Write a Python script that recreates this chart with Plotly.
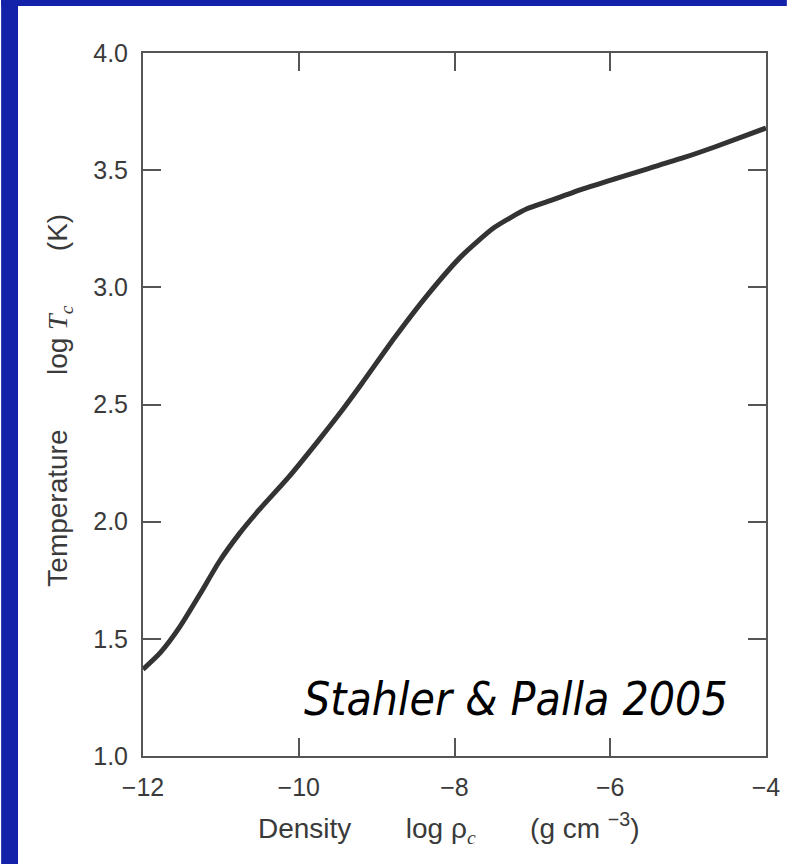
import plotly.graph_objects as go

# Central density (log g cm^-3) and central temperature (log K) of a collapsing core
log_rho_c = [-12.0, -11.78, -11.53, -11.27, -11.02, -10.76, -10.51, -10.13, -9.75,
             -9.49, -9.19, -8.77, -8.34, -7.92, -7.49, -7.07, -6.77, -6.35, -5.92,
             -5.50, -5.07, -4.65, -4.0]
log_T_c = [1.37, 1.44, 1.55, 1.69, 1.83, 1.95, 2.05, 2.19, 2.345,
           2.455, 2.59, 2.785, 2.97, 3.13, 3.255, 3.335, 3.37, 3.42, 3.465,
           3.508, 3.552, 3.60, 3.68]

x_ticks = [-12, -10, -8, -6, -4]
y_ticks = [1.0, 1.5, 2.0, 2.5, 3.0, 3.5, 4.0]

W, H = 792, 864
L, R, T, B = 143, 21, 53, 108
pw, ph = W - L - R, H - T - B

def px_to_paper_x(p):
    return (p - L) / pw

def px_to_paper_y(p):
    return (H - B - p) / ph

AXIS = "#555555"
TEXT = "#3a3a3a"
BLUE = "#1322a8"
SANS = "Liberation Sans, Arial, sans-serif"

fig = go.Figure()
fig.add_trace(go.Scatter(
    x=log_rho_c, y=log_T_c, mode="lines",
    line=dict(color="#333333", width=5, shape="spline", smoothing=0.6),
    hoverinfo="skip", showlegend=False,
))

axis_common = dict(
    showgrid=False, zeroline=False, showline=True, linecolor=AXIS, linewidth=2,
    mirror="ticks", ticks="inside", ticklen=18, tickwidth=2, tickcolor=AXIS,
    tickfont=dict(family=SANS, size=25, color=TEXT),
)

fig.update_xaxes(range=[-12, -4], tickvals=x_ticks,
                 ticktext=[f"\u2212{abs(v)}" for v in x_ticks],
                 ticklabelstandoff=8, **axis_common)
fig.update_yaxes(range=[1.0, 4.0], tickvals=y_ticks,
                 ticktext=[f"{v:.1f}" for v in y_ticks],
                 ticklabelstandoff=8, **axis_common)

serif = "font-family:'Liberation Serif','DejaVu Serif',serif;font-style:italic"
gap = "&nbsp;" * 7
annots = [
    dict(text="Density" + gap + "log \u03c1<sub><span style=\"" + serif + "\">c</span></sub>"
              + gap + "(g cm <sup>\u22123</sup>)",
         x=px_to_paper_x(451), y=px_to_paper_y(828), xanchor="center", yanchor="middle",
         font=dict(family=SANS, size=28, color=TEXT)),
    dict(text="Temperature" + gap + "log <span style=\"" + serif + "\">T</span>"
              "<sub><span style=\"" + serif + "\">c</span></sub>" + gap + "(K)",
         x=px_to_paper_x(58), y=px_to_paper_y(400), xanchor="center", yanchor="middle",
         textangle=-90,
         font=dict(family=SANS, size=28, color=TEXT)),
    dict(text="<i>Stahler &amp; Palla 2005</i>",
         x=px_to_paper_x(735), y=px_to_paper_y(699), xanchor="right", yanchor="middle",
         font=dict(family="DejaVu Sans Condensed, DejaVu Sans, sans-serif", size=46,
                   color="#000000")),
]
for a in annots:
    a.update(xref="paper", yref="paper", showarrow=False)

# blue slide frame along the left and top edges
shapes = [
    dict(type="rect", xref="paper", yref="paper", layer="above",
         x0=px_to_paper_x(0), x1=px_to_paper_x(17), y0=px_to_paper_y(H), y1=px_to_paper_y(0),
         fillcolor=BLUE, line=dict(width=0)),
    dict(type="rect", xref="paper", yref="paper", layer="above",
         x0=px_to_paper_x(0), x1=px_to_paper_x(W), y0=px_to_paper_y(6), y1=px_to_paper_y(0),
         fillcolor=BLUE, line=dict(width=0)),
]

fig.update_layout(
    width=W, height=H, margin=dict(l=L, r=R, t=T, b=B, pad=0),
    paper_bgcolor="white", plot_bgcolor="white",
    annotations=annots, shapes=shapes,
)

fig.write_html("out.html")
